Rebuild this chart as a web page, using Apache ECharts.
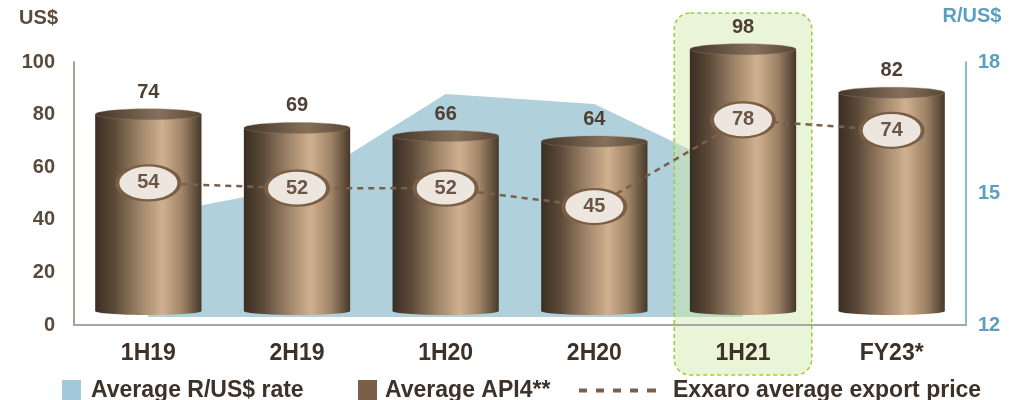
<!DOCTYPE html>
<html><head><meta charset="utf-8">
<script src="https://cdn.jsdelivr.net/npm/echarts@6/dist/echarts.min.js"></script>
<style>html,body{margin:0;padding:0;background:#fff}#c{width:1023px;height:400px}</style>
</head><body><div id="c"></div>
<script>
// ---- data ----
const categories = ['1H19', '2H19', '1H20', '2H20', '1H21', 'FY23*'];
const api4Values = [74, 69, 66, 64, 98, 82];
const exportPrice = [54, 52, 52, 45, 78, 74];
const randRate = [14.5, 15.15, 17.27, 17.04, 15.42, null];
const highlighted = ['1H21'];

const FONT = 'Liberation Sans, Arial, sans-serif';
const DARK = '#3d3128';
const BROWN_TXT = '#5a4a3a';
const BLUE_TXT = '#5a9fc0';

const chart = echarts.init(document.getElementById('c'));

function bodyGrad() {
  return new echarts.graphic.LinearGradient(0, 0, 1, 0, [
    { offset: 0, color: '#3a2e23' },
    { offset: 0.18, color: '#5c4a39' },
    { offset: 0.45, color: '#a68b6e' },
    { offset: 0.63, color: '#d0b08f' },
    { offset: 0.82, color: '#a08467' },
    { offset: 1, color: '#463829' }
  ]);
}
function topGrad() {
  return new echarts.graphic.LinearGradient(0, 0, 1, 0, [
    { offset: 0, color: '#43362a' },
    { offset: 0.6, color: '#86705b' },
    { offset: 1, color: '#574636' }
  ]);
}

function renderCylinder(params, api) {
  const idx = api.value(0);
  const val = api.value(1);
  const top = api.coord([idx, val]);
  const base = api.coord([idx, 0]);
  const w = api.size([1, 0])[0] * 0.715;
  const cx = top[0];
  const ry = 5.5;
  const by = base[1] - 4;
  return {
    type: 'group',
    children: [
      { type: 'rect', shape: { x: cx - w / 2, y: top[1], width: w, height: by - top[1] }, style: { fill: bodyGrad() } },
      { type: 'ellipse', shape: { cx: cx, cy: by, rx: w / 2, ry: 4 }, style: { fill: bodyGrad() } },
      { type: 'ellipse', shape: { cx: cx, cy: top[1], rx: w / 2, ry: ry }, style: { fill: topGrad(), stroke: 'rgba(150,130,110,0.6)', lineWidth: 0.6 } },
      { type: 'text', style: { text: String(val), x: cx, y: top[1] - 22, align: 'center', verticalAlign: 'middle', font: 'bold 20px ' + FONT, fill: '#4d3f33' } }
    ]
  };
}

function renderHighlight(params, api) {
  const cat = api.value(0);
  const topPt = api.coord([cat, 100]);
  const botPt = api.coord([cat, 0]);
  const w = api.size([1, 0])[0] * 0.925;
  const y0 = topPt[1] - 49;
  const y1 = botPt[1] + 50;
  return {
    type: 'rect',
    shape: { x: topPt[0] - w / 2, y: y0, width: w, height: y1 - y0, r: 16 },
    style: { fill: 'rgba(206,232,165,0.45)', stroke: '#9ccc3c', lineWidth: 1.5, lineDash: [4, 3] }
  };
}

const dashIcon = 'path://M0,0h8v4h-8z M17,0h8v4h-8z M34,0h8v4h-8z M51,0h8v4h-8z M68,0h9v4h-9z';
const legendText = { color: DARK, fontSize: 23, fontWeight: 'bold', fontFamily: FONT };

const option = {
  backgroundColor: '#ffffff',
  animation: false,
  grid: { left: 74, right: 57, top: 62, bottom: 75, containLabel: false },
  legend: [
    { data: [{ name: 'Average R/US$ rate', icon: 'rect' }], left: 57, top: 374, itemWidth: 19, itemHeight: 21, itemGap: 0,
      textStyle: Object.assign({ padding: [0, 0, 0, 5] }, legendText), selectedMode: false },
    { data: [{ name: 'Average API4**', icon: 'rect', itemStyle: { color: '#7a6048' } }], left: 353, top: 374, itemWidth: 19, itemHeight: 21, itemGap: 0,
      textStyle: Object.assign({ padding: [0, 0, 0, 3] }, legendText), selectedMode: false },
    { data: [{ name: 'Exxaro average export price', icon: dashIcon, itemStyle: { color: '#7a6048', borderWidth: 0 } }], left: 574, top: 374, itemWidth: 77, itemHeight: 4, itemGap: 0,
      textStyle: Object.assign({ padding: [0, 0, 0, 12] }, legendText), selectedMode: false }
  ],
  xAxis: {
    type: 'category',
    data: categories,
    z: 10,
    axisTick: { show: false },
    axisLine: { lineStyle: { color: '#a6a6a6', width: 2 } },
    axisLabel: { margin: 17, color: DARK, fontSize: 23, fontWeight: 'bold', fontFamily: FONT }
  },
  yAxis: [
    {
      type: 'value', min: 0, max: 100, interval: 20,
      name: 'US$', nameLocation: 'end', nameGap: 34,
      nameTextStyle: { color: BROWN_TXT, fontSize: 20, fontWeight: 'bold', fontFamily: FONT, align: 'right', padding: [0, 16, 0, 0] },
      axisLine: { show: true, lineStyle: { color: '#8f8070', width: 1.5 } },
      axisTick: { show: false },
      splitLine: { show: false },
      axisLabel: { margin: 19, color: BROWN_TXT, fontSize: 20, fontWeight: 'bold', fontFamily: FONT }
    },
    {
      type: 'value', min: 12, max: 18, interval: 3, position: 'right',
      name: 'R/US$', nameLocation: 'end', nameGap: 36,
      nameTextStyle: { color: BLUE_TXT, fontSize: 20, fontWeight: 'bold', fontFamily: FONT, align: 'center', padding: [0, 0, 0, 12] },
      axisLine: { show: true, lineStyle: { color: '#62a7c6', width: 1.5 } },
      axisTick: { show: false },
      splitLine: { show: false },
      axisLabel: { margin: 12, color: BLUE_TXT, fontSize: 20, fontWeight: 'bold', fontFamily: FONT }
    },
    { type: 'value', min: -3.7, max: 93.3, show: false, splitLine: { show: false } }
  ],
  series: [
    {
      name: 'Average R/US$ rate',
      type: 'line',
      yAxisIndex: 1,
      data: randRate,
      symbol: 'none',
      lineStyle: { width: 0 },
      itemStyle: { color: '#a3cadb' },
      areaStyle: { color: '#b0d0dc', opacity: 1, origin: 12.18 },
      z: 1
    },
    {
      name: 'highlight',
      type: 'custom',
      yAxisIndex: 0,
      data: highlighted.map(c => [categories.indexOf(c)]),
      renderItem: renderHighlight,
      silent: true,
      z: 2
    },
    {
      name: 'Average API4**',
      type: 'custom',
      yAxisIndex: 2,
      data: api4Values.map((v, i) => [i, v]),
      renderItem: renderCylinder,
      itemStyle: { color: '#7a6048' },
      z: 3
    },
    {
      name: 'Exxaro average export price',
      type: 'line',
      yAxisIndex: 0,
      data: exportPrice,
      symbol: 'path://M0,1a1,1 0 1,0 2,0a1,1 0 1,0 -2,0z',
      symbolSize: [62, 35],
      symbolKeepAspect: false,
      lineStyle: { color: '#7a6048', width: 2.5, type: [6, 5] },
      itemStyle: { color: '#ece6df', borderColor: '#7a5f46', borderWidth: 3 },
      label: { show: true, position: 'inside', formatter: '{c}', color: '#6b5646', fontSize: 20, fontWeight: 'bold', fontFamily: FONT },
      z: 5
    }
  ]
};
chart.setOption(option);
</script>
</body></html>
